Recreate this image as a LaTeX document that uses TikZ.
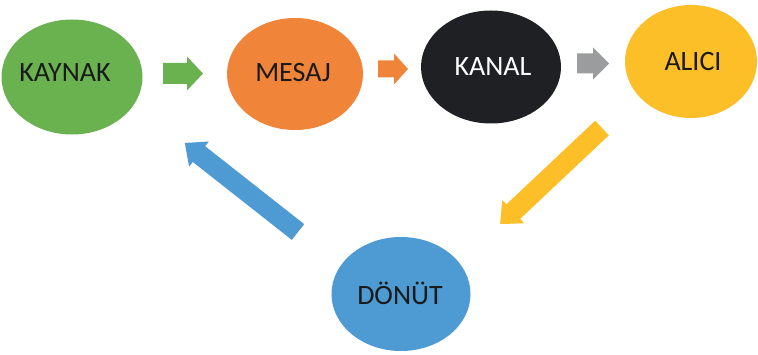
\documentclass[tikz,border=0pt]{standalone}
\usepackage{fontspec}
\setmainfont{Carlito}
\usetikzlibrary{shapes.geometric}
\definecolor{cgreen}{HTML}{6AB150}
\definecolor{corange}{HTML}{F08439}
\definecolor{cblack}{HTML}{1E2023}
\definecolor{cgray}{HTML}{9A9C9E}
\definecolor{cyellow}{HTML}{FCBF28}
\definecolor{cblue}{HTML}{4E9AD2}
\definecolor{ctext}{HTML}{1A1A1A}
\newcommand{\blkarrow}[7]{%
  \begin{scope}[shift={#2}, rotate=#3]
    \fill[#1] (0,-#5) -- ({#4-#7},-#5) -- ({#4-#7},-#6) -- (#4,0) -- ({#4-#7},#6) -- ({#4-#7},#5) -- (0,#5) -- cycle;
  \end{scope}}
\tikzset{
  bubble/.style={ellipse, inner sep=0pt},
  lbl/.style={font=\fontsize{28}{30}\selectfont, text=ctext, inner sep=0pt}
}
\begin{document}
\begin{tikzpicture}[x=1pt,y=1pt]
\fill[white] (0,0) rectangle (758,354);
\useasboundingbox (0,0) rectangle (758,354);
% ellipses
\node[bubble, fill=cgreen, minimum width=141, minimum height=115] (kaynak) at (72,277) {};
\node[bubble, fill=corange, minimum width=136, minimum height=112] (mesaj) at (295,280) {};
\node[bubble, fill=cblack, minimum width=140, minimum height=113] (kanal) at (491,287) {};
\node[bubble, fill=cyellow, minimum width=132, minimum height=113] (alici) at (691,292.5) {};
\node[bubble, fill=cblue, minimum width=139, minimum height=114] (donut) at (401,60) {};
% labels
\node[lbl] (tkaynak) at ([shift={(-7,4)}]kaynak.center) {KAYNAK};
\node[lbl] (tmesaj) at ([shift={(-2,1)}]mesaj.center) {MESAJ};
\node[lbl, text=white] (tkanal) at ([shift={(2,0)}]kanal.center) {KANAL};
\node[lbl] (talici) at ([shift={(2,0)}]alici.center) {ALICI};
\node[lbl] (tdonut) at ([shift={(-1,1)}]donut.center) {DÖNÜT};
% block arrows: colour, tail, angle, length, body half, head half, head length
\blkarrow{cgreen}{(163,280.5)}{0}{40}{10.5}{17}{16}
\blkarrow{corange}{(378,285)}{0}{30}{8.5}{15.5}{14}
\blkarrow{cgray}{(577,290.5)}{0}{32}{10}{16}{16}
\blkarrow{cyellow}{(602,226)}{223.3}{140}{10}{16}{18}
\blkarrow{cblue}{(298,122)}{141.8}{144}{10}{16}{18}
\end{tikzpicture}
\end{document}
